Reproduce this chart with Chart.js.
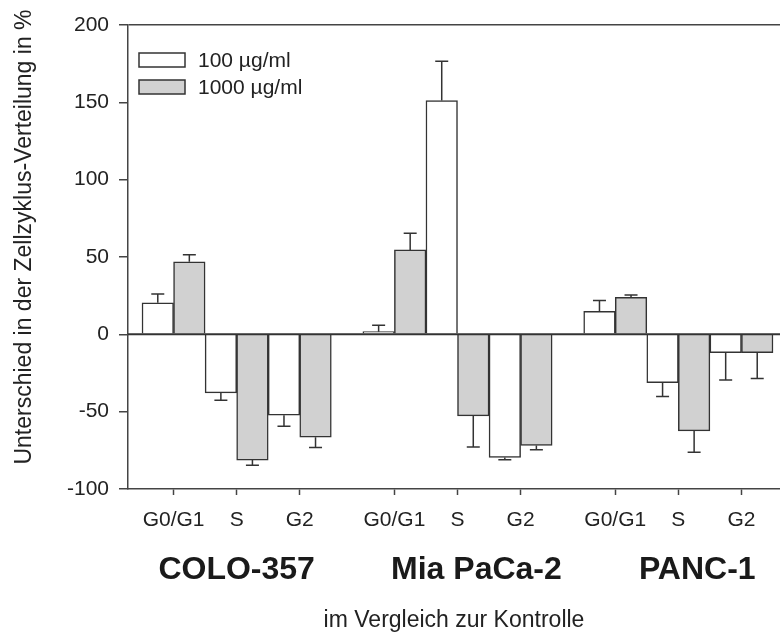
<!DOCTYPE html>
<html>
<head>
<meta charset="utf-8">
<script src="https://cdn.jsdelivr.net/npm/chart.js@4.4.0/dist/chart.umd.min.js"></script>
<style>
html, body { margin: 0; padding: 0; background: #fff; }
</style>
</head>
<body>
<canvas id="chart" width="780" height="635"></canvas>
<script>
const cellLines = ['COLO-357', 'Mia PaCa-2', 'PANC-1'];
const phases = ['G0/G1', 'S', 'G2'];
const seriesNames = ['100 µg/ml', '1000 µg/ml'];

// order: COLO-357 G0/G1, S, G2, Mia PaCa-2 G0/G1, S, G2, PANC-1 G0/G1, S, G2
const low = [20.4, -37.9, -52.3, 1.7, 151.2, -79.6, 14.8, -31.2, -11.8];
const lowErr = [5.6, 4.7, 7.1, 4.1, 25.4, 1.5, 7.1, 9.0, 17.7];
const high = [46.9, -81.3, -66.5, 54.6, -52.7, -71.8, 23.9, -62.4, -11.8];
const highErr = [4.5, 3.4, 6.6, 10.8, 20.2, 2.8, 1.5, 13.9, 16.8];

const yTicks = [-100, -50, 0, 50, 100, 150, 200];

const FONT = "'Liberation Sans', Arial, sans-serif";
const INK = '#333333';
const GREY = '#d1d1d1';

// slot of each bar pair on the x axis: half a slot gap between cell lines
const slots = [];
cellLines.forEach((c, g) => phases.forEach((p, i) => slots.push(g * 3.5 + i)));

const errorBars = {
    id: 'errorBars',
    afterDatasetsDraw(chart) {
        const ctx = chart.ctx;
        const y = chart.scales.y;
        const errs = [lowErr, highErr];
        ctx.save();
        // zero line on top of the bars
        ctx.strokeStyle = INK;
        ctx.lineWidth = 2;
        ctx.beginPath();
        ctx.moveTo(chart.chartArea.left, y.getPixelForValue(0));
        ctx.lineTo(chart.chartArea.right, y.getPixelForValue(0));
        ctx.stroke();

        ctx.lineWidth = 1.5;
        chart.data.datasets.forEach((ds, d) => {
            chart.getDatasetMeta(d).data.forEach((bar, i) => {
                const v = ds.data[i].y;
                const e = errs[d][i];
                const yEnd = y.getPixelForValue(v + Math.sign(v) * e);
                ctx.beginPath();
                ctx.moveTo(bar.x, bar.y);
                ctx.lineTo(bar.x, yEnd);
                ctx.moveTo(bar.x - 6.5, yEnd);
                ctx.lineTo(bar.x + 6.5, yEnd);
                ctx.stroke();
            });
        });
        ctx.restore();
    }
};

const labelsAndLegend = {
    id: 'labelsAndLegend',
    afterDraw(chart) {
        const ctx = chart.ctx;
        const area = chart.chartArea;
        const x = chart.scales.x;
        ctx.save();

        // legend
        ctx.font = '21px ' + FONT;
        ctx.textBaseline = 'middle';
        ctx.textAlign = 'left';
        chart.data.datasets.forEach((ds, d) => {
            const top = area.top + 28 + d * 27;
            ctx.fillStyle = ds.backgroundColor;
            ctx.fillRect(area.left + 11, top, 46, 14);
            ctx.strokeStyle = INK;
            ctx.lineWidth = 1.5;
            ctx.strokeRect(area.left + 11, top, 46, 14);
            ctx.fillStyle = '#222';
            ctx.fillText(ds.label, area.left + 70, top + 8);
        });

        // cell line names under the phase labels
        const groupCenters = [1, 4.8, 8.3];
        ctx.font = 'bold 32px ' + FONT;
        ctx.textAlign = 'center';
        ctx.textBaseline = 'alphabetic';
        ctx.fillStyle = '#1a1a1a';
        cellLines.forEach((name, g) => {
            ctx.fillText(name, x.getPixelForValue(groupCenters[g]), 579);
        });

        // y axis title
        ctx.font = '23px ' + FONT;
        ctx.fillStyle = '#222';
        ctx.translate(25, 237);
        ctx.rotate(-Math.PI / 2);
        ctx.textBaseline = 'middle';
        ctx.fillText('Unterschied in der Zellzyklus-Verteilung in %', 0, 0);
        ctx.restore();
    }
};

new Chart(document.getElementById('chart'), {
    type: 'bar',
    data: {
        datasets: [
            {
                label: seriesNames[0],
                data: low.map((v, i) => ({ x: slots[i], y: v })),
                backgroundColor: '#ffffff',
                borderColor: INK,
                borderWidth: 1.5
            },
            {
                label: seriesNames[1],
                data: high.map((v, i) => ({ x: slots[i], y: v })),
                backgroundColor: GREY,
                borderColor: INK,
                borderWidth: 1.5
            }
        ]
    },
    options: {
        responsive: false,
        animation: false,
        devicePixelRatio: 1,
        categoryPercentage: 1,
        barPercentage: 1,
        layout: { padding: { top: 25, right: 0, bottom: 0, left: 0 } },
        plugins: {
            legend: { display: false },
            tooltip: { enabled: false }
        },
        scales: {
            x: {
                type: 'linear',
                offset: false,
                min: -0.722,
                max: 9.611,
                afterBuildTicks: (scale) => { scale.ticks = slots.map(v => ({ value: v })); },
                afterFit: (scale) => { scale.height = 146; },
                ticks: {
                    autoSkip: false,
                    maxRotation: 0,
                    padding: 13,
                    color: '#222',
                    font: { family: FONT, size: 21 },
                    callback: (v, i) => phases[i % 3]
                },
                grid: {
                    offset: false,
                    drawOnChartArea: false,
                    drawTicks: true,
                    tickLength: 6,
                    tickColor: '#444',
                    tickWidth: 1.5
                },
                border: { color: '#444', width: 1.5 },
                title: {
                    display: true,
                    text: 'im Vergleich zur Kontrolle',
                    color: '#222',
                    font: { family: FONT, size: 23 },
                    padding: { top: 0, bottom: 1 }
                }
            },
            y: {
                min: -100,
                max: 200,
                afterBuildTicks: (scale) => { scale.ticks = yTicks.map(v => ({ value: v })); },
                afterFit: (scale) => { scale.width = 128; },
                ticks: {
                    padding: 10,
                    color: '#222',
                    font: { family: FONT, size: 21 }
                },
                grid: {
                    color: (c) => c.tick && c.tick.value === 200 ? '#444' : 'rgba(0,0,0,0)',
                    lineWidth: 1.5,
                    drawTicks: true,
                    tickLength: 9,
                    tickColor: '#444',
                    tickWidth: 1.5
                },
                border: { color: '#444', width: 1.5 }
            }
        }
    },
    plugins: [errorBars, labelsAndLegend]
});
</script>
</body>
</html>
